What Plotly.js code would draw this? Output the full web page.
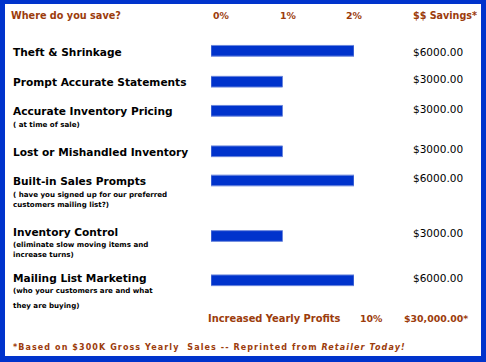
<!DOCTYPE html>
<html>
<head>
<meta charset="utf-8">
<script src="https://cdn.plot.ly/plotly-3.0.1.min.js"></script>
<style>
html,body{margin:0;padding:0;background:#fff;}
#chart{width:486px;height:362px;}
</style>
</head>
<body>
<div id="chart"></div>
<script>
// ---- DATA ----
const categories = [
  "Theft & Shrinkage",
  "Prompt Accurate Statements",
  "Accurate Inventory Pricing",
  "Lost or Mishandled Inventory",
  "Built-in Sales Prompts",
  "Inventory Control",
  "Mailing List Marketing"
];
const notes = [
  [],
  [],
  ["( at time of sale)"],
  [],
  ["( have you signed up for our preferred", "customers mailing list?)"],
  ["(eliminate slow moving items and", "increase turns)"],
  ["(who your customers are and what", "they are buying)"]
];
const percentSaved = [2, 1, 1, 1, 2, 1, 2];
const savings = [6000, 3000, 3000, 3000, 6000, 3000, 6000];
const tickValues = [0, 1, 2];
const tickLabels = ["0%", "1%", "2%"];
const headerLeft = "Where do you save?";
const headerRight = "$$ Savings*";
const totalLabel = "Increased Yearly Profits";
const totalPercent = "10%";
const totalSavings = "$30,000.00*";
const footnote = "*Based on $300K Gross Yearly  Sales -- Reprinted from <i>Retailer Today!</i>";

// ---- LAYOUT (pixel positions, styles) ----
const W = 486, H = 362;
const BLUE = "#0033cc";
const BROWN = "#9c3c0c";
const rowY = [50.8, 81.7, 110.8, 151.3, 180.5, 236, 280.3];      // bar centres
const labelY = [52, 81.7, 111, 152, 181, 231.7, 278.3];
const valueY = [52.3, 79.3, 109, 148.7, 177.7, 233.3, 278.3];
const noteY = [[], [], [124], [], [194, 204], [244.3, 254.7], [290, 305]];
const tickX = [221, 288, 354];
const PADX = 2;   // annotation inner padding
const px = x => x / W;

const FONT = "DejaVu Sans, Verdana, sans-serif";

const trace = {
  type: "bar",
  orientation: "h",
  x: percentSaved,
  y: rowY,
  width: 10.7,
  marker: { color: BLUE, line: { color: "#6a86dc", width: 1 } },
  hoverinfo: "skip"
};

const ann = [];
function addText(text, x, y, size, color, bold, anchor) {
  const a = anchor || "left";
  ann.push({
    text: bold ? "<b>" + text + "</b>" : text,
    xref: "paper", yref: "y", x: px(a === "left" ? x - PADX : x), y: y,
    xanchor: a, yanchor: "middle",
    showarrow: false,
    font: { family: FONT, size: size, color: color }
  });
}

addText(headerLeft, 11, 15, 9.7, BROWN, true);
tickLabels.forEach((t, i) => addText(t, tickX[i], 15, 9.4, BROWN, true, "center"));
addText(headerRight, 413, 15, 9.6, BROWN, true);

categories.forEach((c, i) => {
  addText(c, 13, labelY[i], 10.6, "#000", true);
  notes[i].forEach((n, j) => addText(n, 13, noteY[i][j], 7.1, "#000", true));
  addText("$" + savings[i].toFixed(2), 413, valueY[i], 10.5, "#000", false);
});

addText(totalLabel, 208, 318, 9.9, BROWN, true);
addText(totalPercent, 360, 318, 9.4, BROWN, true);
addText(totalSavings, 404, 318, 9.4, BROWN, true);
addText(footnote, 13, 347.7, 8, BROWN, true);
const footIdx = ann.length - 1;

const layout = {
  width: W, height: H,
  margin: { l: 0, r: 0, t: 0, b: 0, pad: 0 },
  paper_bgcolor: BLUE,
  plot_bgcolor: "rgba(0,0,0,0)",
  showlegend: false,
  xaxis: { domain: [px(211), px(354)], range: [0, 2], visible: false, fixedrange: true,
           tickvals: tickValues, ticktext: tickLabels },
  yaxis: { domain: [0, 1], range: [H, 0], visible: false, fixedrange: true },
  shapes: [{
    type: "rect", xref: "paper", yref: "y", layer: "below",
    x0: px(5), x1: px(481), y0: 4, y1: 356,
    fillcolor: "#ffffff", line: { width: 0 }
  }],
  annotations: ann
};

Plotly.newPlot("chart", [trace], layout, { displayModeBar: false, staticPlot: true }).then(() => {
  const nodes = document.querySelectorAll(".annotation");
  const t = nodes[footIdx] && nodes[footIdx].querySelector("text");
  if (t) {
    const bb = t.getBBox();
    t.setAttribute("text-anchor", "start");
    t.setAttribute("x", bb.x);
    t.querySelectorAll("tspan[x]").forEach(s => s.setAttribute("x", bb.x));
    t.setAttribute("letter-spacing", "1.1px");
  }
});
</script>
</body>
</html>
